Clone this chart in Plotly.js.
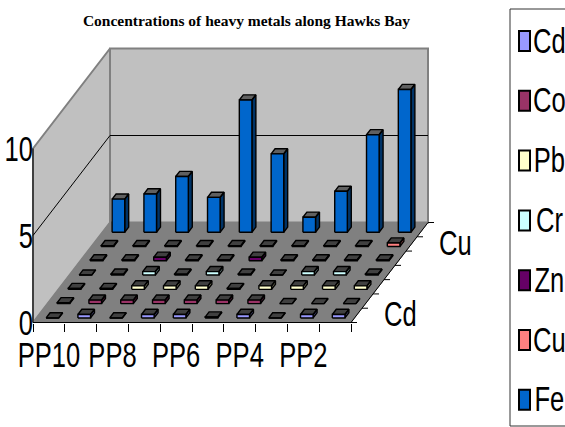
<!DOCTYPE html>
<html><head><meta charset="utf-8">
<script src="https://cdn.plot.ly/plotly-3.0.1.min.js"></script>
<style>html,body{margin:0;padding:0;background:#fff;overflow:hidden}</style>
</head><body><div id="chart" style="width:565px;height:427px"></div>
<script>
// ---- data ----
var sites  = ['PP10','PP9','PP8','PP7','PP6','PP5','PP4','PP3','PP2','PP1'];
var metals = ['Cd','Co','Pb','Cr','Zn','Cu','Fe'];
var Cd = [0,0.2,0,0.2,0.2,0.05,0.2,0,0.2,0.2];
var Co = [0.05,0.2,0.2,0.2,0.2,0.2,0.2,0,0,0];
var Pb = [0.05,0.05,0.2,0.2,0.2,0.05,0.2,0.2,0.2,0.2];
var Cr = [0,0.05,0.2,0.05,0.2,0.05,0,0.2,0.2,0.05];
var Zn = [0.05,0.05,0.2,0.05,0.05,0.2,0.05,0.05,0.05,0.05];
var Cu = [0.05,0.05,0.05,0.05,0.05,0.05,0.05,0.05,0.05,0.2];
var Fe = [1.9,2.2,3.2,2.0,7.6,4.5,0.86,2.35,5.6,8.2];
var seriesValues = [Cd,Co,Pb,Cr,Zn,Cu,Fe];
var colors = ['#9999FF','#993366','#FFFFCC','#CCFFFF','#660066','#FF8080','#0066CC'];
var xTickLabels = ['PP10','PP8','PP6','PP4','PP2'];
var yTicks = [0,5,10];

// ---- oblique projection: (category position, depth row, value) -> axis coordinates ----
var L=33,R=351,B=322.5,T=148.5,W=565,H=427;
var ux=(R-L)/sites.length, uy=(B-T)/10;
var rowDx=77/7/ux, rowDy=100/7/uy;           // one series row, in axis units
function P(c,d,v){return [c+d*rowDx, v+d*rowDy];}
function shade(hex,k){var n=parseInt(hex.slice(1),16);
  return 'rgb('+[(n>>16)&255,(n>>8)&255,n&255].map(function(a){return Math.round(a*k);}).join(',')+')';}

var traces=[];
function poly(points,fill,line,lw){
  var xs=[],ys=[];points.forEach(function(p){xs.push(p[0]);ys.push(p[1]);});
  xs.push(points[0][0]);ys.push(points[0][1]);
  traces.push({type:'scatter',mode:'lines',x:xs,y:ys,fill:fill?'toself':'none',fillcolor:fill||undefined,
    line:{color:line||'rgba(0,0,0,0)',width:lw||0,simplify:false},hoverinfo:'skip',showlegend:false});
}
function seg(a,b,color,lw){
  traces.push({type:'scatter',mode:'lines',x:[a[0],b[0]],y:[a[1],b[1]],line:{color:color,width:lw,simplify:false},
    hoverinfo:'skip',showlegend:false});
}
var D=metals.length,N=sites.length,VM=10;
// walls and floor
poly([P(0,0,0),P(0,D,0),P(0,D,VM),P(0,0,VM)],'#C0C0C0','#808080',2);
poly([P(0,D,0),P(N,D,0),P(N,D,VM),P(0,D,VM)],'#C0C0C0','#808080',2);
poly([P(0,0,0),P(N,0,0),P(N,D,0),P(0,D,0)],'#808080','#808080',1);
seg(P(0,0,5),P(0,D,5),'#000',1);
seg(P(0,D,5),P(N,D,5),'#000',1);
// front axes
seg(P(0,0,0),P(N,0,0),'#000',1);
seg(P(0,0,0),P(0,0,VM),'#000',1);
// depth axis with ticks
seg(P(N,0,0),P(N,D,0),'#000',1);
for(var t=0;t<=D;t++){var q=P(N,t,0);seg(q,[q[0]+6/ux,q[1]],'#000',1);}
// bars, back row first
var bw=12.6/ux, bd=0.36;
for(var s=D-1;s>=0;s--){
  for(var c=0;c<N;c++){
    var v=seriesValues[s][c], col=colors[s];
    var x0=c+0.5-bw/2, x1=x0+bw, d0=s+0.5-bd/2, d1=d0+bd;
    var top=v===0?'#000':shade(col,0.8), front=v===0?'#000':col, side=v===0?'#000':shade(col,0.5);
    poly([P(x1,d0,0),P(x1,d1,0),P(x1,d1,v),P(x1,d0,v)],side,'#000',1.4);
    poly([P(x0,d0,v),P(x1,d0,v),P(x1,d1,v),P(x0,d1,v)],top,'#000',1.4);
    poly([P(x0,d0,0),P(x1,d0,0),P(x1,d0,v),P(x0,d0,v)],front,'#000',1.4);
  }
}
var textFont={family:'"Liberation Sans Narrow","Liberation Sans",Arial,sans-serif',size:35,color:'#000'};
function px(x){return x/W;}
function py(y){return 1-y/H;}
var annotations=[
  {text:'Cd',xref:'paper',yref:'paper',x:px(401),y:py(313),xanchor:'center',yanchor:'middle',showarrow:false,font:textFont},
  {text:'Cu',xref:'paper',yref:'paper',x:px(455),y:py(243),xanchor:'center',yanchor:'middle',showarrow:false,font:textFont}
];
var shapes=[{type:'rect',xref:'paper',yref:'paper',x0:px(510),x1:px(580),y0:py(9),y1:py(426),line:{color:'#333',width:1},fillcolor:'#fff'}];
metals.forEach(function(m,i){
  var cy=41+i*59.8;
  shapes.push({type:'rect',xref:'paper',yref:'paper',x0:px(519),x1:px(530),y0:py(cy-10),y1:py(cy+10),
    line:{color:'#000',width:2},fillcolor:colors[i]});
  annotations.push({text:m,xref:'paper',yref:'paper',x:px(549.5),y:py(cy-1),xanchor:'center',yanchor:'middle',showarrow:false,font:textFont});
});
var xVals=xTickLabels.map(function(_,i){return 0.5+2*i;});
var layout={
  width:W,height:H,paper_bgcolor:'#fff',plot_bgcolor:'rgba(0,0,0,0)',showlegend:false,hovermode:false,
  margin:{l:0,r:0,t:0,b:0,pad:0},
  title:{text:'<b>Concentrations of heavy metals along Hawks Bay</b>',x:246.5/W,xanchor:'center',y:1-21/H,yanchor:'middle',
    font:{family:'"Liberation Serif","Times New Roman",serif',size:15.5,color:'#000'}},
  xaxis:{range:[-L/ux,(W-L)/ux],domain:[0,1],anchor:'free',position:1-B/H,side:'bottom',tickmode:'array',tickvals:xVals,ticktext:xTickLabels,tickangle:0,ticks:'',tickfont:textFont,ticklabelstandoff:8,
    showgrid:false,zeroline:false,showline:false,
    minor:{tickmode:'array',tickvals:[0,1,2,3,4,5,6,7,8,9,10],ticks:'outside',ticklen:8,tickcolor:'#000',tickwidth:1,showgrid:false}},
  yaxis:{range:[-(H-B)/uy,B/uy],domain:[0,1],anchor:'free',position:L/W,side:'left',tickmode:'array',tickvals:yTicks,ticktext:yTicks.map(String),ticks:'',tickfont:textFont,ticklabelstandoff:0,
    showgrid:false,zeroline:false,showline:false},
  shapes:shapes,annotations:annotations
};
Plotly.newPlot('chart',traces,layout,{displayModeBar:false,staticPlot:true}).then(function(){
  // the reference's labels are tall and condensed: keep them as real text, squeezed horizontally
  document.querySelectorAll('.xtick text,.ytick text,.annotation-text').forEach(function(t){
    var len=t.getComputedTextLength();
    t.setAttribute('textLength',len*0.73);
    t.setAttribute('lengthAdjust','spacingAndGlyphs');
  });
});
</script></body></html>
